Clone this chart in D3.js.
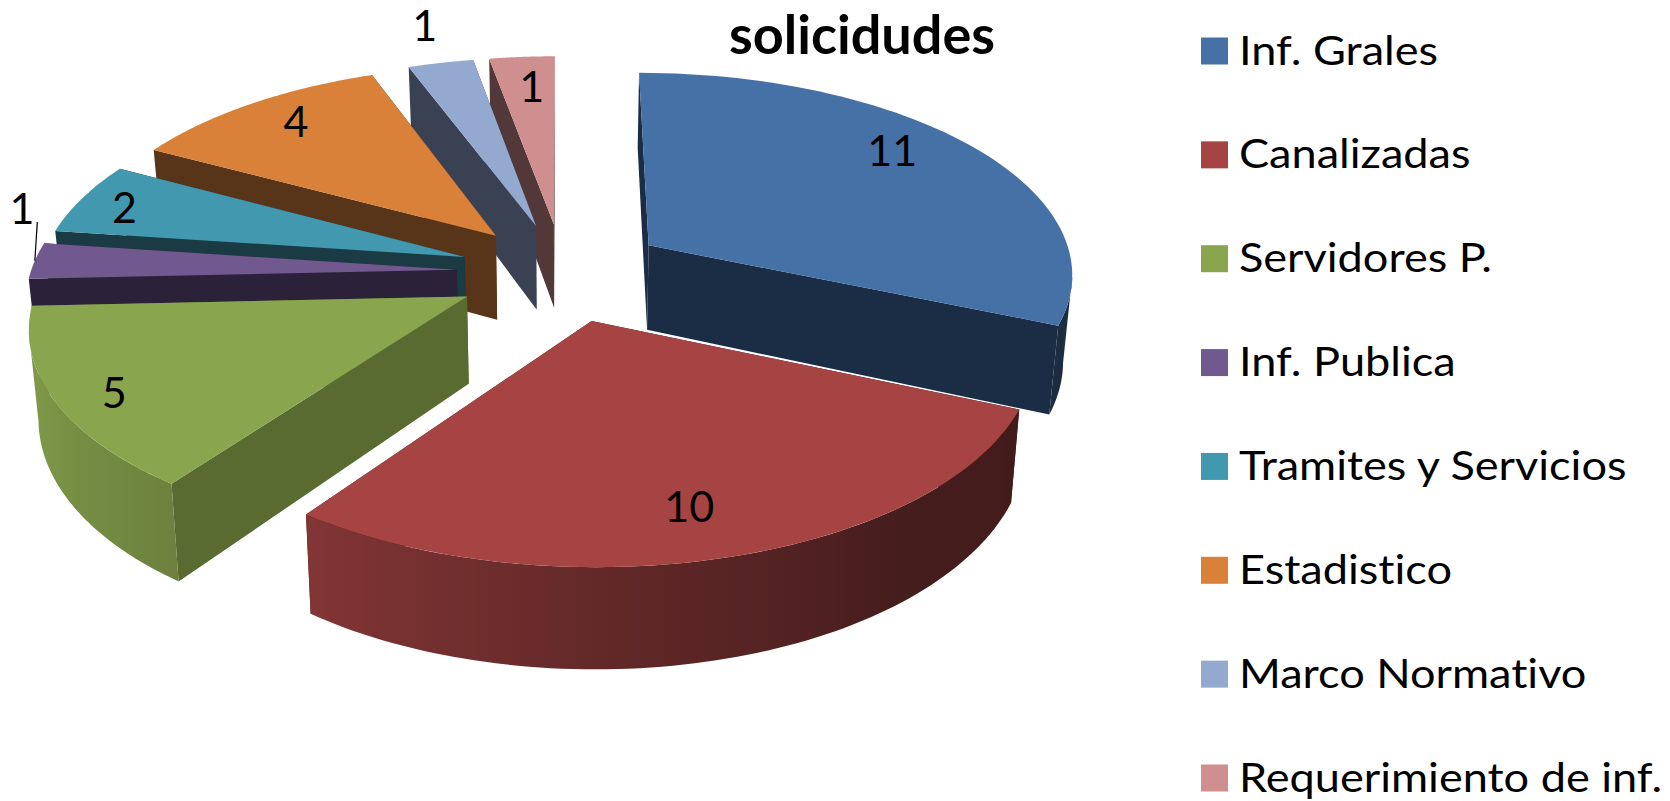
<!DOCTYPE html>
<html>
<head>
<meta charset="utf-8">
<script src="https://cdn.jsdelivr.net/npm/d3@7"></script>
<style>
	body { margin: 0; background: #fff; }
	text { font-family: Lato, "Open Sans", sans-serif; fill: #000; font-variant-ligatures: none; }
</style>
</head>
<body>
<script>
const title = "solicidudes";
const categories = ["Inf. Grales", "Canalizadas", "Servidores P.", "Inf. Publica", "Tramites y Servicios", "Estadistico", "Marco Normativo", "Requerimiento de inf."];
const values = [11, 10, 5, 1, 2, 4, 1, 1];

const topColors = ["#4571a6", "#a54443", "#89a54e", "#71588f", "#4198af", "#d98039", "#93a9cf", "#ce8f8e"];
const wallColors = ["#1a2d45", "#45191a", "#5a6b31", "#2b2138", "#1a3a44", "#583418", "#3a4152", "#523839"];

// how far each slice is pulled out of the pie
const explodes = [0.245, 0.245, 0.252, 0.25, 0.245, 0.245, 0.245, 0.245];

// where each value label sits on the pie plane: distance from centre, turn from the mid angle
const labelRadii = [1.065, 1.048, 1.125, 1.364, 1.125, 1.082, 1.503, 1.05];
const labelTurns = [-4.7, 1.2, -1.3, 11.4, -0.6, 1.3, 0.6, 0.6];

const width = 1670;
const height = 801;

// pie plane -> screen, a simple perspective seen from the front
const cx = 563, cy = 272;
const scaleX = 426, scaleY = 201;
const perspective = 0.128;
const depth = 86;
const pinch = 0.018; // the lower face is a little narrower than the upper one

const weight = (u, v) => 1 + perspective * v;
const project = (u, v) => [cx + scaleX * u / weight(u, v), cy - scaleY * v / weight(u, v)];
const drop = (u, v) => {
	const p = project(u, v);
	return [cx + (p[0] - cx) * (1 - pinch), p[1] + depth / weight(u, v)];
};

// rim brightness by angle, dark on the right, light on the left
const rimShade = d3.scaleLinear()
	.domain([113, 140, 170, 216, 270])
	.range([0.40, 0.42, 0.55, 0.79, 1])
	.clamp(true);

const svg = d3.select("body").append("svg")
	.attr("width", width)
	.attr("height", height)
	.attr("viewBox", `0 0 ${width} ${height}`);

const defs = svg.append("defs");

const pie = d3.pie().sort(null).value(d => d.value);
const slices = pie(categories.map((name, i) => ({ name, value: values[i], i })));
const line = d3.line();

slices.forEach((s, i) => {
	s.mid = (s.startAngle + s.endAngle) / 2;
	s.ox = explodes[i] * Math.sin(s.mid);
	s.oy = explodes[i] * Math.cos(s.mid);
});

const rimPoint = (s, a) => [s.ox + Math.sin(a), s.oy + Math.cos(a)];

// is the outside of the rim turned to the viewer at this angle
const rimFacing = (s, a) => {
	const p = rimPoint(s, a);
	return p[0] * Math.sin(a) + (p[1] + 1 / perspective) * Math.cos(a) < 0;
};

const shaded = (color, f) => {
	const c = d3.rgb(color);
	return d3.rgb(c.r * f, c.g * f, c.b * f).formatHex();
};

// back slices first
const ordered = slices.slice().sort((a, b) => d3.descending(Math.cos(a.mid), Math.cos(b.mid)));

ordered.forEach(s => {
	const g = svg.append("g");
	const top = topColors[s.data.i];
	const wall = wallColors[s.data.i];
	const apex = [s.ox, s.oy];

	// the two radial walls
	[s.startAngle, s.endAngle].forEach(a => {
		const r = rimPoint(s, a);
		g.append("path")
			.attr("d", line([project(...apex), project(...r), drop(...r), drop(...apex)]) + "Z")
			.attr("fill", wall);
	});

	// rim, only the part that faces the viewer, shaded along x with a gradient
	const angles = d3.range(0, 81)
		.map(k => s.startAngle + (s.endAngle - s.startAngle) * k / 80)
		.filter(a => rimFacing(s, a));

	if (angles.length > 1) {
		const upper = angles.map(a => project(...rimPoint(s, a)));
		const lower = angles.map(a => drop(...rimPoint(s, a)));
		const xs = d3.extent(upper, d => d[0]);
		const id = "rim" + s.data.i;

		const grad = defs.append("linearGradient")
			.attr("id", id)
			.attr("gradientUnits", "userSpaceOnUse")
			.attr("x1", xs[0]).attr("x2", xs[1])
			.attr("y1", 0).attr("y2", 0);

		const stops = angles.map((a, k) => ({
			offset: (upper[k][0] - xs[0]) / (xs[1] - xs[0] || 1),
			color: shaded(top, rimShade(a * 180 / Math.PI))
		})).sort((a, b) => d3.ascending(a.offset, b.offset));

		grad.selectAll("stop")
			.data(stops)
			.enter().append("stop")
			.attr("offset", d => d.offset)
			.attr("stop-color", d => d.color);

		g.append("path")
			.attr("d", line([...upper, ...lower.reverse()]) + "Z")
			.attr("fill", `url(#${id})`);
	}

	// top face
	const outline = d3.range(0, 61).map(k => {
		const a = s.startAngle + (s.endAngle - s.startAngle) * k / 60;
		return project(...rimPoint(s, a));
	});
	g.append("path")
		.attr("d", line([project(...apex), ...outline]) + "Z")
		.attr("fill", top);
});

// value labels
const polar = (deg, r) => {
	const a = deg * Math.PI / 180;
	return project(r * Math.sin(a), r * Math.cos(a));
};

slices.forEach((s, i) => {
	const p = polar(s.mid * 180 / Math.PI + labelTurns[i], labelRadii[i]);
	svg.append("text")
		.attr("x", p[0])
		.attr("y", p[1])
		.attr("dy", "0.36em")
		.attr("text-anchor", "middle")
		.style("font-size", "43px")
		.text(s.value);
});

// leader line for the small outside label
const leaderSlice = slices[3];
const leaderDeg = leaderSlice.mid * 180 / Math.PI;
svg.append("path")
	.attr("d", line([polar(leaderDeg + 8.8, 1.3), polar(leaderDeg, 1 + explodes[3])]))
	.attr("fill", "none")
	.attr("stroke", "#000")
	.attr("stroke-width", 1.2);

// title
svg.append("text")
	.attr("x", 862)
	.attr("y", 54)
	.attr("text-anchor", "middle")
	.style("font-size", "54px")
	.style("font-weight", "bold")
	.text(title);

// legend
const legendY = d3.scalePoint().domain(categories).range([51, 778]);

const legend = svg.selectAll(".legend")
	.data(categories)
	.enter().append("g")
	.attr("class", "legend")
	.attr("transform", d => `translate(1201, ${legendY(d)})`);

legend.append("rect")
	.attr("x", 0)
	.attr("y", -13.5)
	.attr("width", 27)
	.attr("height", 27)
	.attr("fill", (d, i) => topColors[i]);

legend.append("text")
	.attr("transform", "translate(38, 0) scale(1.1, 1)")
	.attr("dy", "0.33em")
	.style("font-size", "41px")
	.text(d => d);
</script>
</body>
</html>
